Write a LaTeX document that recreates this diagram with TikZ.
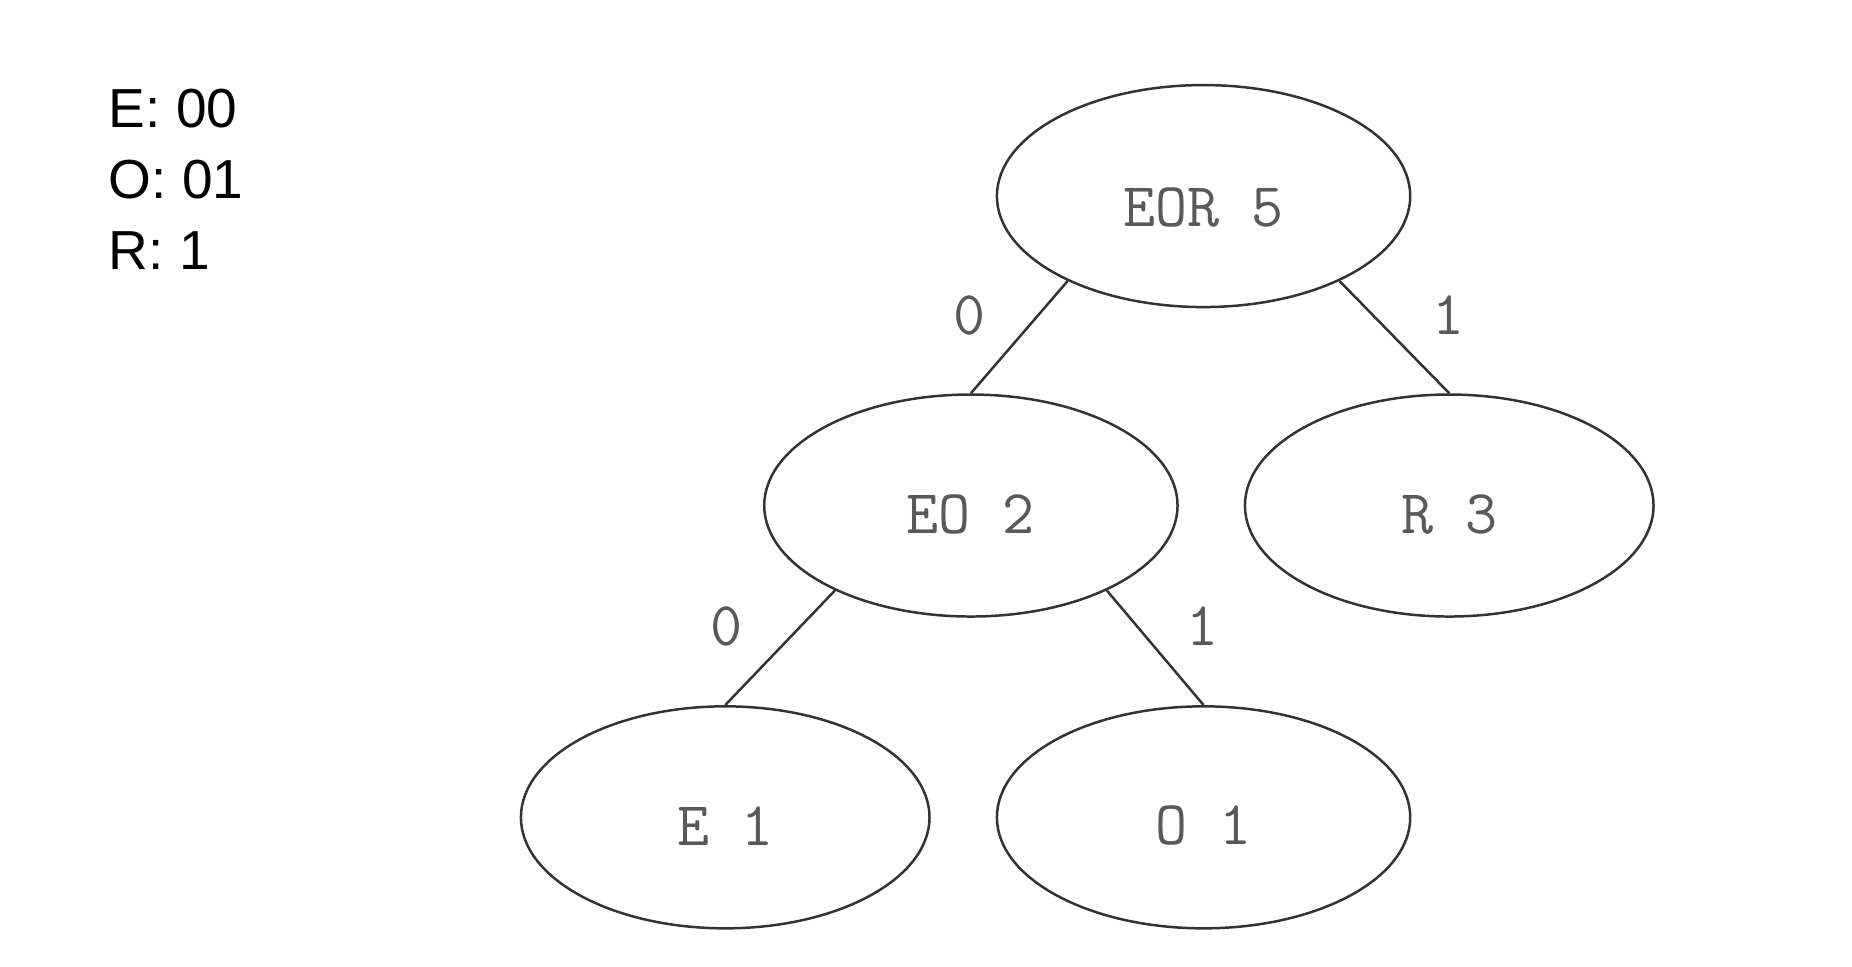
\documentclass[tikz,border=0pt]{standalone}
\usepackage{fontspec}
\setmainfont{Liberation Sans}
\usetikzlibrary{shapes.geometric}
\begin{document}
\begin{tikzpicture}[x=0.02cm,y=-0.02cm,
  nd/.style={ellipse,draw=black!80,line width=1.2pt,minimum width=7cm,minimum height=3.76cm,inner sep=0pt,text=black!70},
  ed/.style={draw=black!80,line width=1.2pt},
  lb/.style={font=\ttfamily\fontsize{30}{30}\selectfont,text=black!65},
  lg/.style={anchor=west,font=\fontsize{26.5}{30}\selectfont}]
\useasboundingbox (0,0) rectangle (1568,818);
\node[nd] (EOR) at (1019,166) {};
\node[nd] (EO) at (822,428) {};
\node[nd,minimum width=6.92cm] (R) at (1227,428) {};
\node[nd,minimum width=6.92cm] (E) at (614,692) {};
\node[nd] (O) at (1019,692) {};
\node[lb] (t1) at (1019,176) {EOR 5};
\node[lb] (t2) at (822,436) {EO 2};
\node[lb] (t3) at (1227,436) {R 3};
\node[lb] (t4) at (614,699) {E 1};
\node[lb] (t5) at (1019,699) {O 1};
\draw[ed] (EOR.-148) -- (EO.north);
\draw[ed] (EOR.-32) -- (R.north);
\draw[ed] (EO.-148) -- (E.north);
\draw[ed] (EO.-32) -- (O.north);
\node[lb] (l1) at (821,267) {0};
\node[lb] (l2) at (1226,267) {1};
\node[lb] (l3) at (615,530) {0};
\node[lb] (l4) at (1018,530) {1};
\node[lg] (a) at (86,92) {E: 00};
\node[lg] (b) at (86,152) {O: 01};
\node[lg] (c) at (86,212) {R: 1};
\end{tikzpicture}
\end{document}
